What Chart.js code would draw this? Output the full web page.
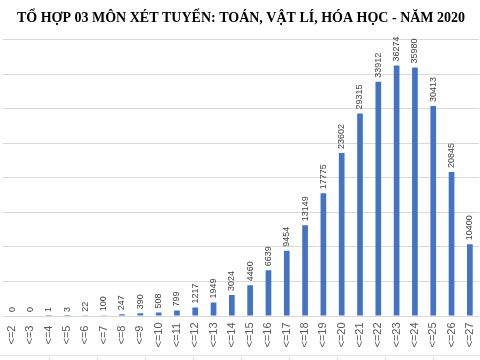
<!DOCTYPE html>
<html>
<head>
<meta charset="utf-8">
<script src="https://cdn.jsdelivr.net/npm/chart.js@4/dist/chart.umd.min.js"></script>
<style>
html,body{margin:0;padding:0;background:#fff;}
#wrap{width:480px;height:360px;position:relative;}
</style>
</head>
<body>
<div id="wrap"><canvas id="c" width="480" height="360"></canvas></div>
<script>
const titleText = 'TỔ HỢP 03 MÔN XÉT TUYỂN: TOÁN, VẬT LÍ, HÓA HỌC - NĂM 2020';
const categories = ['<=2','<=3','<=4','<=5','<=6','<=7','<=8','<=9','<=10','<=11','<=12','<=13','<=14','<=15','<=16','<=17','<=18','<=19','<=20','<=21','<=22','<=23','<=24','<=25','<=26','<=27'];
const counts = [0,0,1,3,22,100,247,390,508,799,1217,1949,3024,4460,6639,9454,13149,17775,23602,29315,33912,36274,35980,30413,20845,10400];
const yMax = 40000;
const yStep = 5000;

const barLabels = {
  id: 'barLabels',
  afterDatasetsDraw(chart) {
    const ctx = chart.ctx;
    const meta = chart.getDatasetMeta(0);
    const data = chart.data.datasets[0].data;
    ctx.save();
    ctx.font = '9px "Liberation Sans", Arial, sans-serif';
    ctx.fillStyle = '#404040';
    ctx.textAlign = 'left';
    ctx.textBaseline = 'middle';
    meta.data.forEach((bar, i) => {
      ctx.save();
      ctx.translate(bar.x, bar.y - 4);
      ctx.rotate(-Math.PI / 2);
      ctx.fillText(String(data[i]), 0, 0);
      ctx.restore();
    });
    ctx.restore();
  }
};

// category labels rotated and centred below the axis (as in the spreadsheet chart)
const centredXLabels = {
  id: 'centredXLabels',
  afterDraw(chart) {
    const ctx = chart.ctx;
    const xs = chart.scales.x;
    ctx.save();
    ctx.font = '11px "Liberation Sans", Arial, sans-serif';
    ctx.fillStyle = '#595959';
    ctx.textAlign = 'center';
    ctx.textBaseline = 'middle';
    chart.data.labels.forEach((lab, i) => {
      ctx.save();
      ctx.translate(xs.getPixelForTick(i), xs.top + 19);
      ctx.rotate(-Math.PI / 2);
      ctx.fillText(lab, 0, 0);
      ctx.restore();
    });
    ctx.restore();
  }
};

// faint spreadsheet cell borders below the chart
const sheetCells = {
  id: 'sheetCells',
  afterDraw(chart) {
    const ctx = chart.ctx;
    const w = chart.width, h = chart.height;
    ctx.save();
    ctx.strokeStyle = '#e3e3e3';
    ctx.lineWidth = 1;
    ctx.beginPath();
    ctx.moveTo(0, h - 4.5); ctx.lineTo(w, h - 4.5);
    for (let x = 49; x < w; x += 48) {
      ctx.moveTo(x + 0.5, h - 4.5); ctx.lineTo(x + 0.5, h);
    }
    ctx.stroke();
    ctx.restore();
  }
};

new Chart(document.getElementById('c'), {
  type: 'bar',
  data: {
    labels: categories,
    datasets: [{
      data: counts,
      backgroundColor: '#4472C4',
      borderWidth: 0,
      barPercentage: 0.31,
      categoryPercentage: 1.0
    }]
  },
  options: {
    responsive: false,
    animation: false,
    devicePixelRatio: 1,
    layout: { padding: { left: 3, right: 1, top: 0, bottom: 0 } },
    plugins: {
      legend: { display: false },
      tooltip: { enabled: false },
      title: {
        display: true,
        text: titleText,
        color: '#000',
        font: { family: '"Liberation Serif", "Times New Roman", serif', size: 14, weight: 'bold' },
        padding: { top: 10, bottom: 13 }
      }
    },
    scales: {
      x: {
        grid: { display: false, drawTicks: false },
        border: { display: false },
        ticks: { display: false, autoSkip: false },
        afterFit(s) { s.height = 44; }
      },
      y: {
        min: 0, max: yMax,
        ticks: { stepSize: yStep, display: false },
        grid: { color: '#d9d9d9', drawTicks: false, tickLength: 0 },
        border: { display: false },
        afterFit(s) { s.width = 0; }
      }
    }
  },
  plugins: [barLabels, centredXLabels, sheetCells]
});
</script>
</body>
</html>
